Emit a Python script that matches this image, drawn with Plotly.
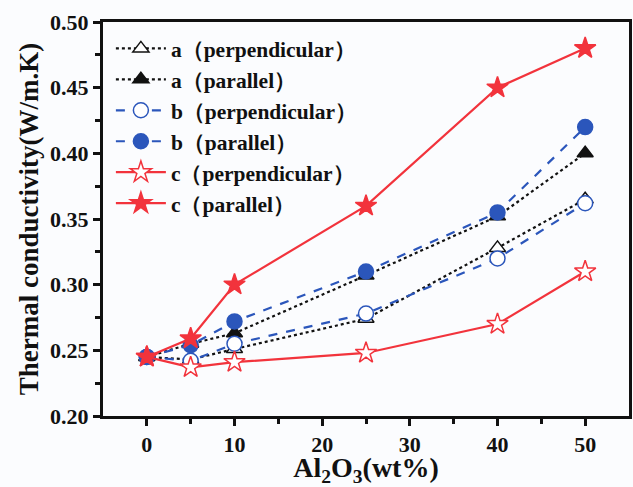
import plotly.graph_objects as go

x = [0, 5, 10, 25, 40, 50]
a_perp = [0.245, 0.243, 0.251, 0.274, 0.328, 0.365]
a_par = [0.245, 0.255, 0.263, 0.307, 0.352, 0.400]
b_perp = [0.245, 0.242, 0.255, 0.278, 0.320, 0.362]
b_par = [0.245, 0.254, 0.272, 0.310, 0.355, 0.420]
c_perp = [0.245, 0.237, 0.241, 0.248, 0.270, 0.310]
c_par = [0.245, 0.259, 0.300, 0.360, 0.450, 0.480]

names = ["a（perpendicular）", "a（parallel）", "b（perpendicular）",
         "b（parallel）", "c（perpendicular）", "c（parallel）"]

BLACK = "#111111"
BLUE = "#2b56bb"
RED = "#f2333c"
BG = "#fbfcfe"
FONT = "Liberation Serif"

# (values, colour, dash, symbol, size, hollow)
series = [
    (a_perp, BLACK, "dot", "triangle-up", 14, True),
    (a_par, BLACK, "dot", "triangle-up", 14, False),
    (b_perp, BLUE, "dash", "circle", 15, True),
    (b_par, BLUE, "dash", "circle", 15, False),
    (c_perp, RED, "solid", "star", 16, True),
    (c_par, RED, "solid", "star", 16, False),
]

fig = go.Figure()
for (vals, col, dash, sym, sz, hollow), nm in zip(series, names):
    fig.add_trace(go.Scatter(
        x=x, y=vals, name=nm, mode="lines+markers",
        line=dict(color=col, dash=dash, width=2.2),
        marker=dict(symbol=sym, size=sz, color="white" if hollow else col,
                    line=dict(color=col, width=1.5)),
    ))

fig.update_layout(
    width=633, height=487,
    margin=dict(l=103, r=1, t=22, b=70),
    paper_bgcolor=BG, plot_bgcolor=BG,
    font=dict(family=FONT, color=BLACK),
    legend=dict(
        x=0.015, y=0.985, xanchor="left", yanchor="top",
        bgcolor="rgba(0,0,0,0)",
        font=dict(family=FONT, size=21.5, color=BLACK, weight="bold"),
        tracegroupgap=0, itemwidth=50,
    ),
    xaxis=dict(
        range=[-5, 55], tickvals=[0, 10, 20, 30, 40, 50],
        ticks="outside", ticklen=7, tickwidth=2.5, tickcolor=BLACK,
        minor=dict(tickvals=[5, 15, 25, 35, 45], ticks="outside",
                   ticklen=5, tickwidth=2.5, tickcolor=BLACK),
        showline=True, linewidth=3, linecolor=BLACK, mirror=True,
        showgrid=False, zeroline=False,
        tickfont=dict(family=FONT, size=22, weight="bold"),
        title=dict(text="Al<sub>2</sub>O<sub>3</sub>(wt%)",
                   font=dict(family=FONT, size=28, weight="bold"), standoff=9),
    ),
    yaxis=dict(
        range=[0.20, 0.50], tickvals=[0.20, 0.25, 0.30, 0.35, 0.40, 0.45, 0.50],
        tickformat=".2f",
        ticks="outside", ticklen=7, tickwidth=2.5, tickcolor=BLACK,
        minor=dict(tickvals=[0.225, 0.275, 0.325, 0.375, 0.425, 0.475],
                   ticks="outside", ticklen=5, tickwidth=2.5, tickcolor=BLACK),
        showline=True, linewidth=3, linecolor=BLACK, mirror=True,
        showgrid=False, zeroline=False,
        tickfont=dict(family=FONT, size=22, weight="bold"),
        title=dict(text="Thermal conductivity(W/m.K)",
                   font=dict(family=FONT, size=27, weight="bold"), standoff=4),
    ),
)

fig.write_html("out.html")
